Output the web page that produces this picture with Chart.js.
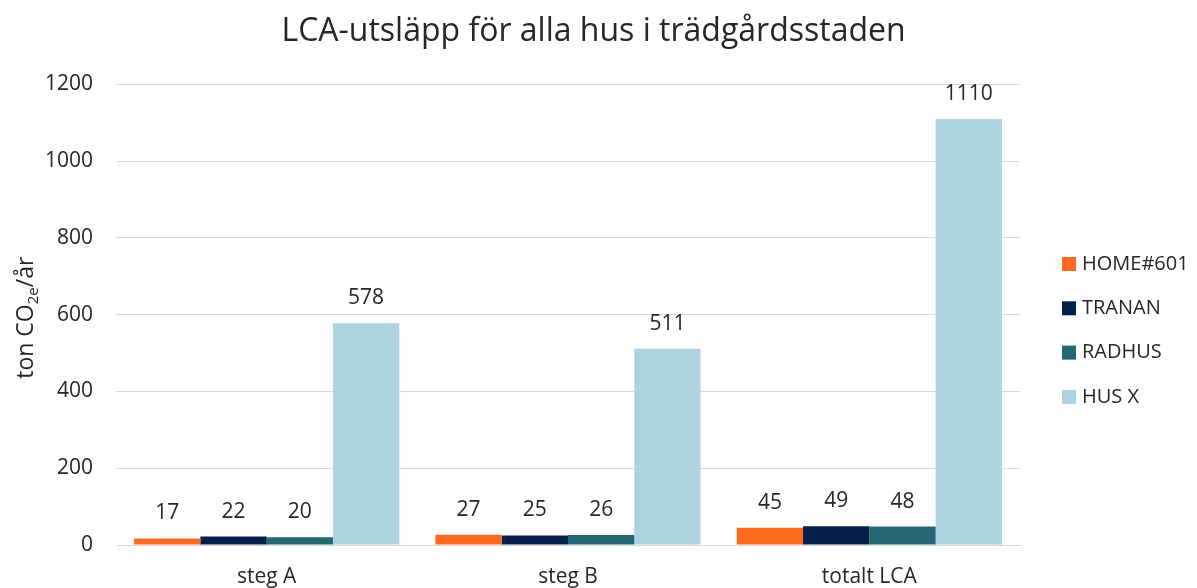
<!DOCTYPE html>
<html>
<head>
<meta charset="utf-8">
<script src="https://cdn.jsdelivr.net/npm/chart.js@4"></script>
<style>
  html, body { margin: 0; padding: 0; background: #fff; }
  #wrap { width: 1197px; height: 588px; }
</style>
</head>
<body>
<div id="wrap"><canvas id="lcaChart" width="1197" height="588"></canvas></div>
<script>
// Data
const categories = ['steg A', 'steg B', 'totalt LCA'];
const seriesNames = ['HOME#601', 'TRANAN', 'RADHUS', 'HUS X'];
const home601 = [17, 27, 45];
const tranan = [22, 25, 49];
const radhus = [20, 26, 48];
const husX = [578, 511, 1110];
const yTicks = [0, 200, 400, 600, 800, 1000, 1200];

const seriesColors = ['#FF6A21', '#061F4A', '#246873', '#ADD2E0'];
const FONT = "'Open Sans', sans-serif";
const TEXT = '#262626';

// Draws the value above each bar
const valueLabels = {
    id: 'valueLabels',
    afterDatasetsDraw(chart) {
        const ctx = chart.ctx;
        ctx.save();
        ctx.font = '21px ' + FONT;
        ctx.fillStyle = TEXT;
        ctx.textAlign = 'center';
        ctx.textBaseline = 'middle';
        chart.data.datasets.forEach((ds, i) => {
            chart.getDatasetMeta(i).data.forEach((bar, j) => {
                ctx.fillText(String(ds.data[j]), bar.x, bar.y - 25);
            });
        });
        ctx.restore();
    }
};

// Y axis title with subscript "2e"
const yTitle = {
    id: 'yTitle',
    afterDraw(chart) {
        const ctx = chart.ctx;
        const area = chart.chartArea;
        const cy = (area.top + area.bottom) / 2 + 3;
        const parts = [
            { t: 'ton CO', size: 23, dy: 0 },
            { t: '2e', size: 15, dy: 5 },
            { t: '/år', size: 23, dy: 0 }
        ];
        ctx.save();
        ctx.translate(33, cy);
        ctx.rotate(-Math.PI / 2);
        ctx.fillStyle = TEXT;
        ctx.textBaseline = 'alphabetic';
        let total = 0;
        parts.forEach(p => { ctx.font = p.size + 'px ' + FONT; total += ctx.measureText(p.t).width; });
        let x = -total / 2;
        parts.forEach(p => {
            ctx.font = p.size + 'px ' + FONT;
            ctx.fillText(p.t, x, p.dy);
            x += ctx.measureText(p.t).width;
        });
        ctx.restore();
    }
};

// Legend on the right, drawn from the datasets
const sideLegend = {
    id: 'sideLegend',
    afterDraw(chart) {
        const ctx = chart.ctx;
        const boxX = chart.chartArea.right + 42;
        const startY = 264;
        const step = 44.3;
        ctx.save();
        ctx.font = '20px ' + FONT;
        ctx.textBaseline = 'middle';
        ctx.textAlign = 'left';
        chart.data.datasets.forEach((ds, i) => {
            const y = startY + i * step;
            ctx.fillStyle = ds.backgroundColor;
            ctx.fillRect(boxX, y - 7, 14, 14);
            ctx.fillStyle = TEXT;
            ctx.fillText(ds.label, boxX + 20, y);
        });
        ctx.restore();
    }
};

const datasetValues = [home601, tranan, radhus, husX];

new Chart(document.getElementById('lcaChart'), {
    type: 'bar',
    data: {
        labels: categories,
        datasets: seriesNames.map((name, i) => ({
            label: name,
            data: datasetValues[i],
            backgroundColor: seriesColors[i],
            borderWidth: 0,
            barPercentage: 1.0,
            categoryPercentage: 0.88
        }))
    },
    options: {
        responsive: false,
        animation: false,
        layout: { padding: { left: 0, right: 10, top: 0, bottom: 0 } },
        plugins: {
            title: {
                display: true,
                text: 'LCA-utsläpp för alla hus i trädgårdsstaden',
                color: TEXT,
                font: { family: FONT, size: 32, weight: 'normal', lineHeight: 1.2 },
                padding: { top: 13, bottom: 33 }
            },
            legend: { display: false },
            tooltip: { enabled: false }
        },
        scales: {
            x: {
                grid: { display: false },
                border: { color: '#d9d9d9', width: 1 },
                ticks: { color: TEXT, font: { family: FONT, size: 21 }, padding: 11 },
                afterFit(axis) { axis.height = 43; }
            },
            y: {
                min: 0,
                max: 1200,
                afterBuildTicks(axis) { axis.ticks = yTicks.map(v => ({ value: v })); },
                grid: { color: '#d9d9d9', drawTicks: false },
                border: { display: false },
                ticks: {
                    color: TEXT,
                    font: { family: FONT, size: 21 },
                    padding: 23,
                    callback: v => String(v)
                },
                afterFit(axis) { axis.width = 116; }
            },
            // empty axis that reserves the space where the legend sits
            legendSpace: {
                type: 'linear',
                position: 'right',
                min: 0,
                max: 1,
                grid: { display: false },
                border: { display: false },
                ticks: { display: false },
                afterFit(axis) { axis.width = 167; }
            }
        }
    },
    plugins: [valueLabels, yTitle, sideLegend]
});
</script>
</body>
</html>
